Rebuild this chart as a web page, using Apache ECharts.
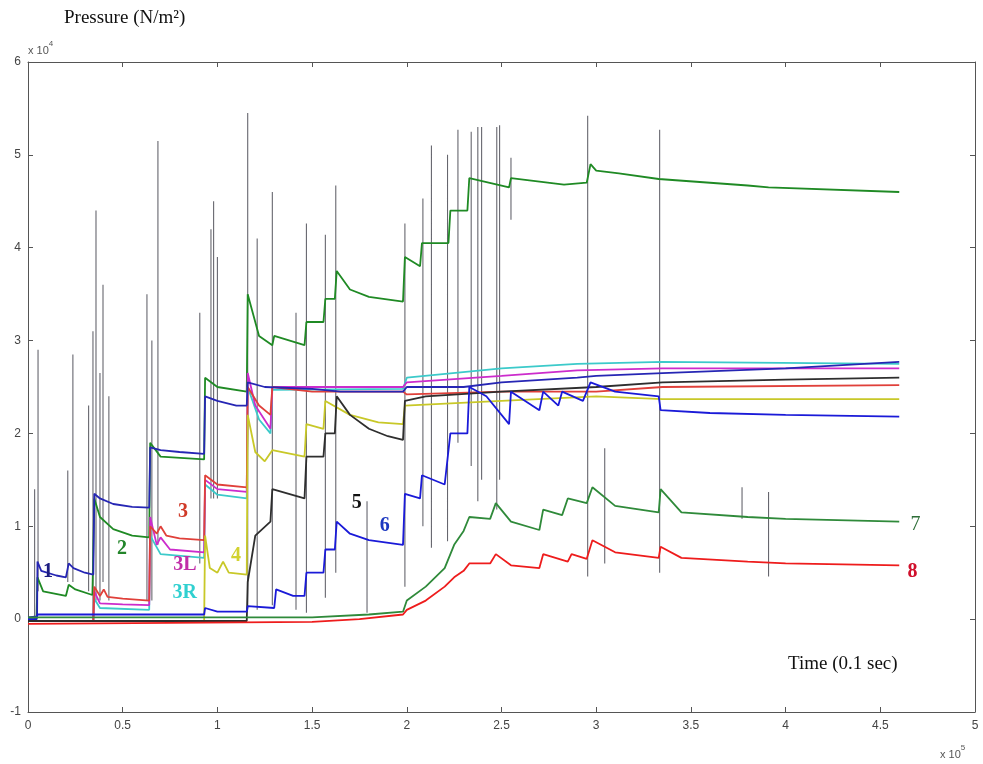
<!DOCTYPE html>
<html>
<head>
<meta charset="utf-8">
<script src="https://cdn.jsdelivr.net/npm/echarts/dist/echarts.min.js"></script>
<style>
html, body { margin: 0; padding: 0; background: #fff; }
#chart { width: 983px; height: 764px; }
</style>
</head>
<body>
<div id="chart"></div>
<script>
// time in units of 1e5 (x 0.1 sec), pressure in units of 1e4 N/m2
var s1 = [[0,0.02],[0.048,0.03],[0.05,0.62],[0.07,0.52],[0.15,0.47],[0.2,0.45],[0.215,0.6],[0.24,0.55],[0.3,0.5],[0.345,0.48],
  [0.35,1.35],[0.38,1.3],[0.45,1.24],[0.55,1.21],[0.64,1.2],[0.645,1.85],[0.7,1.82],[0.8,1.8],[0.93,1.78],[0.935,2.4],
  [1.0,2.35],[1.1,2.3],[1.155,2.3],[1.16,2.55],[1.25,2.5],[1.5,2.48],[1.65,2.45],[1.98,2.45],[2.0,2.5],[2.3,2.5],
  [2.5,2.55],[2.9,2.6],[3.0,2.62],[3.35,2.65],[4.0,2.7],[4.6,2.77]];
var s2 = [[0,0],[0.045,0],[0.05,0.45],[0.08,0.3],[0.2,0.25],[0.215,0.37],[0.25,0.32],[0.34,0.26],[0.35,1.3],[0.38,1.1],
  [0.45,0.97],[0.55,0.9],[0.64,0.88],[0.645,1.9],[0.7,1.75],[0.93,1.72],[0.935,2.6],[1.0,2.5],[1.155,2.45],[1.16,3.5],
  [1.22,3.05],[1.29,2.95],[1.3,3.05],[1.46,2.95],[1.47,3.2],[1.56,3.2],[1.57,3.45],[1.62,3.45],[1.63,3.75],[1.7,3.55],
  [1.8,3.47],[1.98,3.42],[1.99,3.9],[2.07,3.8],[2.08,4.05],[2.22,4.05],[2.23,4.4],[2.32,4.4],[2.33,4.75],[2.54,4.65],
  [2.55,4.75],[2.83,4.68],[2.95,4.7],[2.97,4.9],[3.0,4.83],[3.12,4.8],[3.33,4.74],[3.34,4.72],[3.8,4.67],[3.91,4.65],
  [3.92,4.63],[4.6,4.6]];
var s3 = [[0,-0.02],[0.345,-0.02],[0.35,0.35],[0.38,0.25],[0.4,0.32],[0.42,0.24],[0.5,0.22],[0.64,0.2],[0.645,1.0],[0.68,0.92],
  [0.7,1.0],[0.73,0.9],[0.8,0.87],[0.93,0.85],[0.935,1.55],[1.0,1.45],[1.155,1.42],[1.16,2.5],[1.22,2.3],[1.28,2.2],
  [1.29,2.5],[1.5,2.45],[1.98,2.45],[2.0,2.42],[2.5,2.45],[2.9,2.45],[3.0,2.45],[3.35,2.5],[4.6,2.52]];
var s3L = [[0,-0.02],[0.345,-0.02],[0.35,0.3],[0.38,0.17],[0.5,0.16],[0.64,0.15],[0.645,1.1],[0.68,0.8],[0.7,0.88],[0.75,0.75],
  [0.93,0.72],[0.935,1.5],[1.0,1.4],[1.155,1.37],[1.16,2.65],[1.2,2.3],[1.28,2.05],[1.29,2.5],[1.5,2.5],[1.98,2.5],
  [2.0,2.55],[2.5,2.62],[2.9,2.68],[3.35,2.7],[4.6,2.7]];
var s3R = [[0,-0.02],[0.345,-0.02],[0.35,0.22],[0.38,0.12],[0.64,0.1],[0.645,0.9],[0.7,0.7],[0.93,0.66],[0.935,1.45],[1.0,1.34],
  [1.155,1.3],[1.16,2.5],[1.22,2.15],[1.28,2.0],[1.29,2.47],[1.98,2.48],[2.0,2.6],[2.5,2.7],[2.9,2.75],[3.35,2.77],[4.6,2.75]];
var s4 = [[0,-0.02],[0.93,-0.02],[0.935,0.9],[0.96,0.55],[1.0,0.5],[1.03,0.62],[1.06,0.5],[1.155,0.48],[1.16,2.2],[1.2,1.8],
  [1.25,1.7],[1.29,1.82],[1.46,1.75],[1.47,2.1],[1.56,2.05],[1.57,2.35],[1.7,2.2],[1.85,2.12],[1.98,2.1],[1.99,2.3],
  [2.5,2.35],[3.0,2.4],[3.35,2.37],[4.6,2.37]];
var s5 = [[0,-0.02],[1.155,-0.02],[1.16,0.4],[1.2,0.9],[1.28,1.05],[1.29,1.4],[1.46,1.3],[1.47,1.75],[1.56,1.75],[1.57,2.0],
  [1.62,2.0],[1.63,2.4],[1.7,2.2],[1.8,2.05],[1.9,1.97],[1.98,1.93],[1.99,2.35],[2.1,2.4],[2.5,2.45],[3.0,2.5],
  [3.35,2.55],[4.0,2.58],[4.6,2.6]];
var s6 = [[0,0],[0.045,0],[0.05,0.05],[0.93,0.05],[0.935,0.12],[1.0,0.08],[1.155,0.08],[1.16,0.14],[1.3,0.12],[1.31,0.32],
  [1.4,0.25],[1.46,0.25],[1.47,0.5],[1.56,0.5],[1.57,0.75],[1.62,0.75],[1.63,1.05],[1.7,0.92],[1.8,0.85],[1.98,0.8],
  [1.99,1.35],[2.07,1.3],[2.08,1.55],[2.2,1.45],[2.23,2.0],[2.32,2.0],[2.33,2.5],[2.42,2.4],[2.54,2.1],[2.55,2.45],
  [2.7,2.25],[2.72,2.45],[2.8,2.3],[2.82,2.45],[2.93,2.35],[2.97,2.55],[3.1,2.45],[3.33,2.4],[3.34,2.25],[3.6,2.22],
  [4.0,2.2],[4.6,2.18]];
var s7 = [[0,0.02],[1.5,0.02],[1.8,0.05],[1.98,0.08],[2.0,0.2],[2.1,0.35],[2.2,0.55],[2.25,0.8],[2.3,0.95],[2.33,1.1],
  [2.44,1.08],[2.47,1.25],[2.55,1.05],[2.7,0.96],[2.72,1.18],[2.82,1.12],[2.85,1.3],[2.95,1.25],[2.98,1.42],[3.1,1.22],
  [3.33,1.15],[3.34,1.4],[3.45,1.15],[3.8,1.1],[4.0,1.08],[4.6,1.05]];
var s8 = [[0,-0.05],[1.5,-0.03],[1.75,0.0],[1.98,0.05],[2.0,0.1],[2.1,0.2],[2.2,0.35],[2.25,0.45],[2.3,0.52],[2.33,0.6],
  [2.44,0.6],[2.47,0.7],[2.55,0.58],[2.7,0.55],[2.72,0.7],[2.85,0.62],[2.87,0.7],[2.95,0.65],[2.98,0.85],[3.1,0.72],
  [3.33,0.66],[3.34,0.78],[3.45,0.66],[3.8,0.62],[4.0,0.6],[4.6,0.58]];

// transient spikes: time, low end, high end
var spikeT  = [0.035,0.053,0.21,0.237,0.32,0.343,0.359,0.38,0.396,0.427,0.628,0.654,0.686,0.907,0.966,0.98,1.0,1.16,1.21,1.29,
  1.415,1.47,1.57,1.625,1.79,1.99,2.085,2.13,2.215,2.27,2.34,2.375,2.395,2.475,2.49,2.55,2.955,3.045,3.335,3.77,3.91];
var spikeLo = [0.0,0.3,0.4,0.4,0.3,0.0,0.2,0.2,0.4,0.2,0.2,0.2,0.8,0.6,1.3,1.3,1.3,0.1,0.1,0.15,
  0.1,0.07,0.23,0.5,0.07,0.35,1.0,0.77,0.84,1.9,1.65,1.27,1.5,1.18,1.5,4.3,0.46,0.6,0.5,1.08,0.46];
var spikeHi = [1.4,2.9,1.6,2.85,2.3,3.1,4.4,2.65,3.6,2.4,3.5,3.0,5.15,3.3,4.2,4.5,3.9,5.45,4.1,4.6,
  3.3,4.26,4.14,4.67,1.27,4.26,4.53,5.1,5.0,5.27,5.25,5.3,5.3,5.3,5.32,4.97,5.42,1.84,5.27,1.42,1.37];

// curve tags
var tagNames = ['1','2','3','3L','3R','4','5','6','7','8'];
var tagT = [0.105,0.496,0.818,0.828,0.828,1.098,1.736,1.884,4.686,4.67];
var tagP = [0.51,0.76,1.16,0.59,0.28,0.68,1.25,1.0,1.02,0.51];

var xTicks = [0,0.5,1,1.5,2,2.5,3,3.5,4,4.5,5];
var yTicks = [-1,0,1,2,3,4,5,6];

var colors = {
  '1': '#2626b4', '2': '#1f8a24', '3': '#e0403a', '3L': '#cc2ccc', '3R': '#3ccaca',
  '4': '#c8c828', '5': '#2e2e2e', '6': '#1a1ad8', '7': '#2f8a3a', '8': '#ee1c1c'
};
var tagColors = {
  '1': '#1c1c80', '2': '#23852a', '3': '#d03a28', '3L': '#c02ca8', '3R': '#30d0d0',
  '4': '#d2d230', '5': '#111111', '6': '#1c38c0', '7': '#2e6e38', '8': '#d0102c'
};

var spikeData = [];
for (var i = 0; i < spikeT.length; i++) {
  spikeData.push([spikeT[i], spikeLo[i]], [spikeT[i], spikeHi[i]], [spikeT[i], null]);
}

function curve(name, data) {
  return {
    name: name, type: 'line', data: data, showSymbol: false, symbol: 'none',
    lineStyle: { color: colors[name], width: 1.8 }, z: 3
  };
}

var axisColor = '#555';
var chart = echarts.init(document.getElementById('chart'));
chart.setOption({
  animation: false,
  backgroundColor: '#fff',
  grid: { left: 28, right: 8, top: 62, bottom: 52 },
  xAxis: [{
    type: 'value', min: xTicks[0], max: xTicks[xTicks.length - 1], interval: 0.5, position: 'bottom',
    axisLine: { onZero: false, lineStyle: { color: axisColor, width: 1 } },
    axisTick: { inside: true, length: 5, lineStyle: { color: axisColor } },
    axisLabel: { color: '#444', fontFamily: 'Liberation Sans', fontSize: 12, margin: 8 },
    splitLine: { show: false }
  }, {
    type: 'value', min: xTicks[0], max: xTicks[xTicks.length - 1], interval: 0.5, position: 'top',
    axisLine: { onZero: false, lineStyle: { color: axisColor, width: 1 } },
    axisTick: { inside: true, length: 5, lineStyle: { color: axisColor } },
    axisLabel: { show: false }, splitLine: { show: false }
  }],
  yAxis: [{
    type: 'value', min: yTicks[0], max: yTicks[yTicks.length - 1], interval: 1, position: 'left',
    axisLine: { show: true, onZero: false, lineStyle: { color: axisColor, width: 1 } },
    axisTick: { show: true, inside: true, length: 5, lineStyle: { color: axisColor } },
    axisLabel: { color: '#444', fontFamily: 'Liberation Sans', fontSize: 12, margin: 7 },
    splitLine: { show: false }
  }, {
    type: 'value', min: yTicks[0], max: yTicks[yTicks.length - 1], interval: 1, position: 'right',
    axisLine: { show: true, onZero: false, lineStyle: { color: axisColor, width: 1 } },
    axisTick: { show: true, inside: true, length: 5, lineStyle: { color: axisColor } },
    axisLabel: { show: false }, splitLine: { show: false }
  }],
  graphic: [
    { type: 'text', left: 64, top: 9, style: { text: 'Pressure (N/m²)', font: '19px "Liberation Serif"', fill: '#111' } },
    { type: 'text', left: 788, top: 655, style: { text: 'Time (0.1 sec)', font: '19px "Liberation Serif"', fill: '#111' } },
    { type: 'text', left: 28, top: 40, style: {
      text: '{a|x 10}{s|4}', rich: { a: { fontSize: 11, fontFamily: 'Liberation Sans', fill: '#555', verticalAlign: 'bottom', lineHeight: 16 },
        s: { fontSize: 8, fontFamily: 'Liberation Sans', fill: '#555', verticalAlign: 'top', lineHeight: 16 } } } },
    { type: 'text', left: 940, top: 744, style: {
      text: '{a|x 10}{s|5}', rich: { a: { fontSize: 11, fontFamily: 'Liberation Sans', fill: '#555', verticalAlign: 'bottom', lineHeight: 16 },
        s: { fontSize: 8, fontFamily: 'Liberation Sans', fill: '#555', verticalAlign: 'top', lineHeight: 16 } } } }
  ],
  series: [
    {
      name: 'spikes', type: 'line', data: spikeData, showSymbol: false, symbol: 'none', connectNulls: false,
      lineStyle: { color: '#66666e', width: 1.1 }, z: 2
    },
    curve('2', s2),
    curve('3R', s3R),
    curve('3L', s3L),
    curve('3', s3),
    curve('4', s4),
    curve('5', s5),
    curve('1', s1),
    curve('6', s6),
    curve('7', s7),
    curve('8', s8),
    {
      name: 'tags', type: 'scatter', symbolSize: 0, z: 5,
      itemStyle: { opacity: 1 },
      data: tagNames.map(function (n, i) {
        return { name: n, value: [tagT[i], tagP[i]],
          label: { color: tagColors[n], opacity: 1, fontWeight: n === '7' ? 'normal' : 'bold' } };
      }),
      label: { show: true, position: 'inside', formatter: '{b}', fontFamily: 'Liberation Serif', fontSize: 20 }
    }
  ]
});
</script>
</body>
</html>
